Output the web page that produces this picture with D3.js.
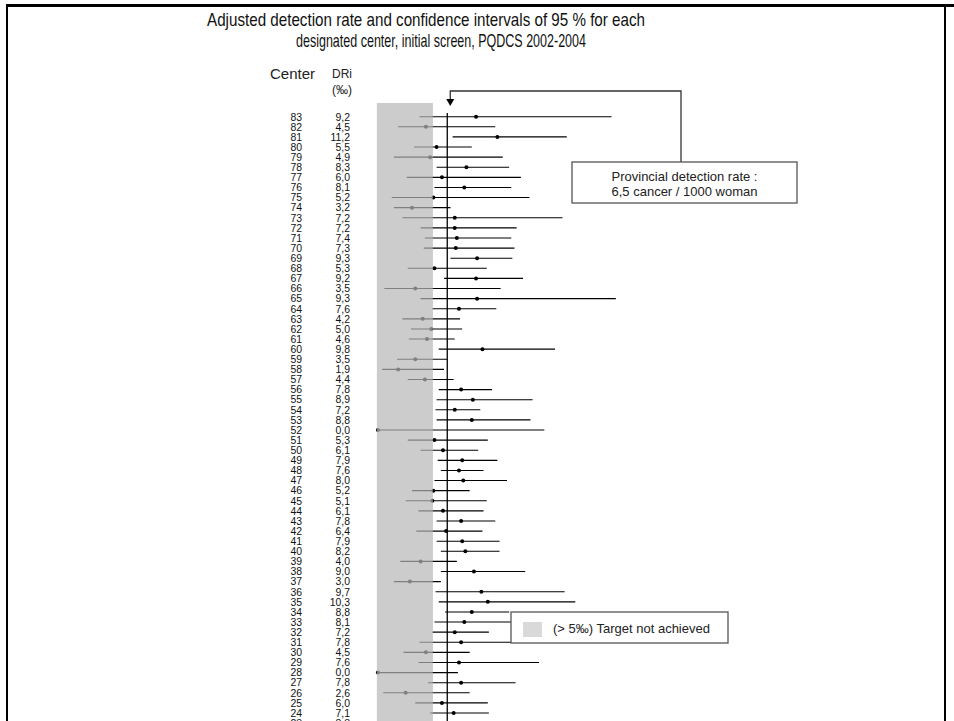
<!DOCTYPE html>
<html>
<head>
<meta charset="UTF-8">
<title>Adjusted detection rate, PQDCS 2002-2004</title>
<script src="https://cdn.jsdelivr.net/npm/d3@7"></script>
<style>
    body { margin:0; padding:0; background:#fff; }
    svg { display:block; font-family:"Liberation Sans", Arial, sans-serif; }
</style>
</head>
<body>
<div id="chart"></div>
<script>
// one entry per designated center, top row first
var centers = [83,82,81,80,79,78,77,76,75,74,73,72,71,70,69,68,67,66,65,64,63,62,61,60,59,58,57,56,55,54,53,52,
               51,50,49,48,47,46,45,44,43,42,41,40,39,38,37,36,35,34,33,32,31,30,29,28,27,26,25,24,23];
var dri = [9.2,4.5,11.2,5.5,4.9,8.3,6.0,8.1,5.2,3.2,7.2,7.2,7.4,7.3,9.3,5.3,9.2,3.5,9.3,7.6,4.2,5.0,4.6,9.8,3.5,1.9,4.4,7.8,8.9,7.2,8.8,0.0,
           5.3,6.1,7.9,7.6,8.0,5.2,5.1,6.1,7.8,6.4,7.9,8.2,4.0,9.0,3.0,9.7,10.3,8.8,8.1,7.2,7.8,4.5,7.6,0.0,7.8,2.6,6.0,7.1,8.8];
var ciLow = [3.9,1.9,7.0,3.4,1.5,5.5,2.7,5.3,1.3,1.5,2.3,4.0,4.4,4.3,6.8,2.8,6.2,0.6,4.0,5.1,2.3,3.1,2.9,5.7,1.8,0.4,2.8,5.7,5.5,5.4,5.5,0.0,
             2.8,4.0,5.6,5.9,5.3,3.2,2.6,3.8,5.5,3.6,5.5,5.9,2.1,5.9,1.5,5.4,5.7,6.3,5.3,5.1,3.9,2.4,3.8,0.0,4.7,0.5,3.5,4.9,5.6];
var ciHigh = [21.9,11.0,17.7,8.8,11.7,12.3,13.4,12.5,14.2,6.8,17.3,13.0,12.5,12.8,12.6,10.2,13.6,11.5,22.3,11.1,7.7,7.9,7.2,16.6,6.5,6.2,7.1,10.7,14.5,9.6,14.3,15.6,
              10.3,9.4,11.2,9.9,12.1,8.6,10.2,9.9,11.0,9.8,11.4,11.4,7.4,13.8,5.9,17.5,18.5,12.3,14.0,10.4,14.0,8.6,15.1,7.5,12.9,8.6,10.3,10.4,12.2];
var provincialRate = 6.5;
var targetRate = 5.15;   // right edge of the shaded "target not achieved" zone
var titleLines = ["Adjusted detection rate and confidence intervals of 95 % for each",
                  "designated center, initial screen, PQDCS 2002-2004"];
var provincialText = ["Provincial detection rate :", "6,5 cancer / 1000 woman"];
var legendText = "(> 5\u2030) Target not achieved";

var svgWidth = 954, svgHeight = 721;
var svg = d3.select('#chart').append('svg')
    .attr('width', svgWidth)
    .attr('height', svgHeight);

// slide frame
svg.append('rect').attr('x', 6).attr('y', 4).attr('width', svgWidth - 6).attr('height', 3).attr('fill', '#000');
svg.append('rect').attr('x', 6).attr('y', 4).attr('width', 2).attr('height', svgHeight).attr('fill', '#000');
svg.append('rect').attr('x', 944).attr('y', 4).attr('width', 2).attr('height', svgHeight).attr('fill', '#000');

// title, narrow and tall like the source
var titlePos = [{x: 207, y: 26, w: 438}, {x: 296, y: 47, w: 290}];
svg.selectAll('text.title').data(titleLines).join('text')
    .attr('class', 'title')
    .attr('font-size', 15)
    .attr('fill', '#111')
    .attr('transform', (d, i) => `translate(${titlePos[i].x}, ${titlePos[i].y}) scale(1, 1.2)`)
    .attr('textLength', (d, i) => titlePos[i].w)
    .attr('lengthAdjust', 'spacingAndGlyphs')
    .text(d => d);

// scales
var x = d3.scaleLinear().domain([0, 25]).range([377.9, 644.65]);
var rowStep = 10.107;
var y = d3.scalePoint().domain(centers).range([116.7, 116.7 + rowStep * (centers.length - 1)]);

var rows = centers.map((c, i) => ({center: c, dri: dri[i], lo: ciLow[i], hi: ciHigh[i]}));

// column headers
svg.append('text').attr('x', 270).attr('y', 79).attr('font-size', 15).attr('fill', '#222').text('Center');
svg.append('text').attr('x', 332).attr('y', 78).attr('font-size', 12).attr('fill', '#222').text('DRi');
svg.append('text').attr('x', 332).attr('y', 94).attr('font-size', 12).attr('fill', '#222').text('(\u2030)');

// row labels
var labels = svg.append('g').attr('font-size', 11).attr('fill', '#111');
labels.selectAll('text.center').data(rows).join('text')
    .attr('class', 'center')
    .attr('text-anchor', 'end')
    .attr('transform', d => `translate(302, ${y(d.center) + 3.8}) scale(0.95, 0.95)`)
    .text(d => d.center);
labels.selectAll('text.dri').data(rows).join('text')
    .attr('class', 'dri')
    .attr('text-anchor', 'end')
    .attr('transform', d => `translate(350, ${y(d.center) + 3.8}) scale(0.95, 0.95)`)
    .text(d => d.dri.toFixed(1).replace('.', ','));

// light band behind
var bandTop = 103;
svg.append('rect')
    .attr('x', x(0) - 1).attr('y', bandTop)
    .attr('width', x(targetRate) - x(0) + 1).attr('height', svgHeight - bandTop)
    .attr('fill', '#d9d9d9');

// confidence intervals and points
var marks = svg.append('g');
marks.selectAll('line').data(rows).join('line')
    .attr('x1', d => x(d.lo)).attr('x2', d => x(d.hi))
    .attr('y1', d => y(d.center)).attr('y2', d => y(d.center))
    .attr('stroke', '#000').attr('stroke-width', 1.1);
marks.selectAll('circle').data(rows).join('circle')
    .attr('cx', d => x(d.dri)).attr('cy', d => y(d.center))
    .attr('r', 2).attr('fill', '#000');

// translucent band on top turns everything below 5 per mille grey
svg.append('rect')
    .attr('x', x(0) - 1).attr('y', bandTop)
    .attr('width', x(targetRate) - x(0) + 1).attr('height', svgHeight - bandTop)
    .attr('fill', 'rgb(197,197,197)').attr('fill-opacity', 0.65);

// provincial rate line
svg.append('line')
    .attr('x1', x(provincialRate)).attr('x2', x(provincialRate))
    .attr('y1', 113).attr('y2', svgHeight)
    .attr('stroke', '#000').attr('stroke-width', 1.3);

// callout for provincial rate
var boxX = 572, boxY = 162, boxW = 225, boxH = 41;
var arrowX = x(provincialRate) + 3;
svg.append('path')
    .attr('d', `M${681},${boxY} V91 H${arrowX} V100`)
    .attr('fill', 'none').attr('stroke', '#333').attr('stroke-width', 1.3);
svg.append('path')
    .attr('d', `M${arrowX - 4},99 L${arrowX + 4},99 L${arrowX},106 Z`)
    .attr('fill', '#000');
svg.append('rect')
    .attr('x', boxX).attr('y', boxY).attr('width', boxW).attr('height', boxH)
    .attr('fill', '#fff').attr('stroke', '#555').attr('stroke-width', 1.3);
svg.selectAll('text.prov').data(provincialText).join('text')
    .attr('class', 'prov')
    .attr('x', boxX + boxW / 2)
    .attr('y', (d, i) => boxY + 19 + i * 15)
    .attr('text-anchor', 'middle')
    .attr('font-size', 13).attr('fill', '#222')
    .text(d => d);

// legend
var legX = 511, legY = 612, legW = 217, legH = 31;
svg.append('rect')
    .attr('x', legX).attr('y', legY).attr('width', legW).attr('height', legH)
    .attr('fill', '#fff').attr('stroke', '#555').attr('stroke-width', 1.3);
svg.append('rect')
    .attr('x', legX + 12).attr('y', legY + 10).attr('width', 19).attr('height', 15)
    .attr('fill', '#d9d9d9');
svg.append('text')
    .attr('x', legX + 42).attr('y', legY + 21)
    .attr('font-size', 13).attr('fill', '#222')
    .text(legendText);
</script>
</body>
</html>
